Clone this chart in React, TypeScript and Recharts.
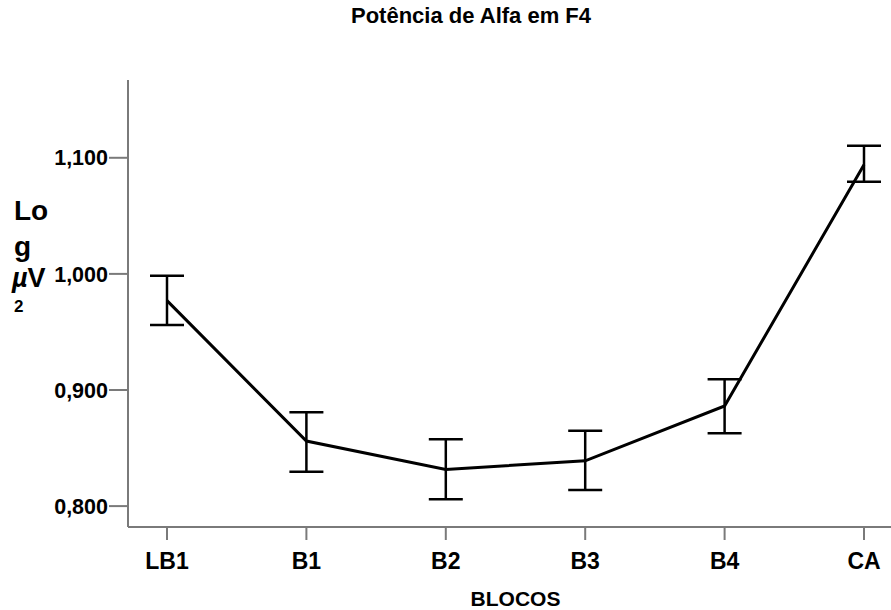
import { ErrorBar, Label, Line, LineChart, XAxis, YAxis } from "recharts";

const blocos = ["LB1", "B1", "B2", "B3", "B4", "CA"];
const media = [0.977, 0.856, 0.8316, 0.839, 0.8862, 1.094];
const limInferior = [0.956, 0.8296, 0.8058, 0.8138, 0.8627, 1.0793];
const limSuperior = [0.9985, 0.8808, 0.8575, 0.8649, 0.9092, 1.1103];
const yTicks = [0.8, 0.9, 1.0, 1.1];

const data = blocos.map((bloco, i) => ({
  bloco,
  media: media[i],
  erro: [media[i] - limInferior[i], limSuperior[i] - media[i]],
}));

const font = "'Liberation Sans', Arial, sans-serif";
const axisColor = "#7a7a7a";

const fmt = (v: number) => v.toFixed(3).replace(".", ",");

function YLabel() {
  return (
    <g fontFamily={font} fontWeight="bold" fill="#000">
      <text x={14} y={220} fontSize={28}>Lo</text>
      <text x={14} y={256} fontSize={28}>g</text>
      <text x={12} y={287} fontSize={27}>
        <tspan fontStyle="italic">µ</tspan>V
      </text>
      <text x={14} y={312} fontSize={17}>2</text>
    </g>
  );
}

export default function App() {
  return (
    <div style={{ position: "fixed", left: 0, top: 0, width: 891, height: 610, overflow: "hidden", background: "#fff" }}>
      <div
        style={{
          position: "absolute",
          top: 3,
          left: 351,
          whiteSpace: "nowrap",
          fontFamily: font,
          fontWeight: "bold",
          fontSize: 22,
          color: "#000",
        }}
      >
        Potência de Alfa em F4
      </div>
      <LineChart width={920} height={610} data={data} margin={{ top: 80, right: 17, bottom: 0, left: 0 }}>
        <XAxis
          dataKey="bloco"
          scale="point"
          padding={{ left: 39, right: 39 }}
          height={83}
          tickSize={13}
          tickMargin={13}
          stroke={axisColor}
          strokeWidth={2}
          tick={{ fill: "#000", fontSize: 23, fontWeight: "bold", fontFamily: font }}
        >
          <Label value="BLOCOS" position="insideBottom" offset={4} fill="#000" fontSize={21} fontWeight="bold" fontFamily={font} />
        </XAxis>
        <YAxis
          width={128}
          domain={[0.782, 1.167]}
          ticks={yTicks}
          tickFormatter={fmt}
          tickSize={19}
          tickMargin={1}
          stroke={axisColor}
          strokeWidth={2}
          tick={{ fill: "#000", fontSize: 21.5, fontWeight: "bold", fontFamily: font }}
          allowDataOverflow
        >
          <Label content={<YLabel />} />
        </YAxis>
        <Line
          dataKey="media"
          stroke="#000"
          strokeWidth={3}
          dot={false}
          activeDot={false}
          isAnimationActive={false}
        >
          <ErrorBar dataKey="erro" width={17} stroke="#000" strokeWidth={2.5} />
        </Line>
      </LineChart>
    </div>
  );
}
